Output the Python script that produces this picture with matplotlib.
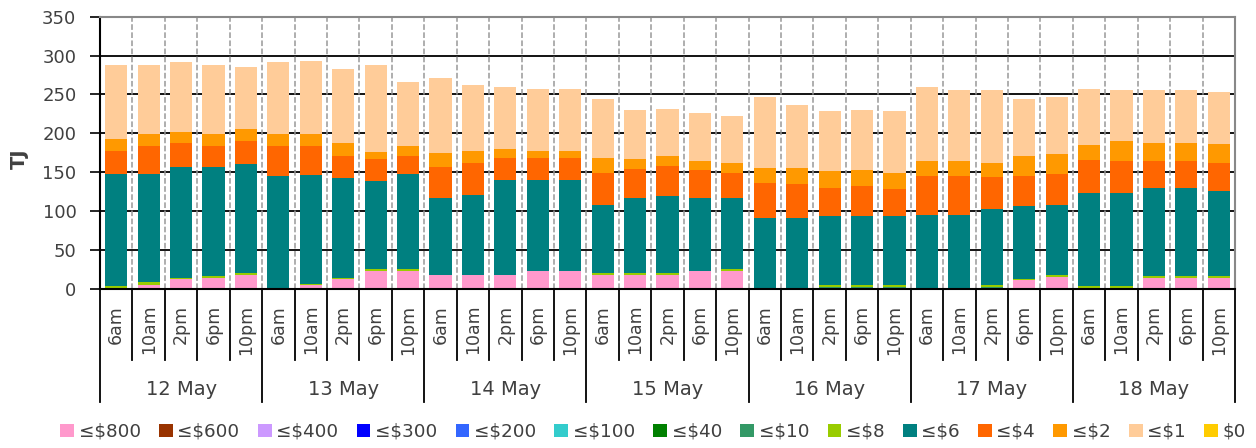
import matplotlib
matplotlib.use("Agg")
import matplotlib.pyplot as plt
import numpy as np

# x axis: 7 days x 5 times
days = ["12 May", "13 May", "14 May", "15 May", "16 May", "17 May", "18 May"]
times = ["6am", "10am", "2pm", "6pm", "10pm"]

# stacked series (TJ), bottom to top
le800 = [0, 5, 12, 14, 18, 0, 4, 12, 23, 23, 17, 17, 17, 22, 22,
         17.5, 17.5, 17.5, 22, 23, 0, 0, 0, 0, 0, 0, 0, 0, 11, 15,
         0, 0, 14, 14, 14]
le600 = [0] * 35
le400 = [0] * 35
le300 = [0] * 35
le200 = [0] * 35
le100 = [0] * 35
le40 = [0] * 35
le10 = [1, 0, 0, 0, 0, 1, 0, 0, 0, 0, 1, 1, 1, 0, 0,
        0, 0, 0, 0, 0, 0, 0, 2, 2, 2, 0, 0, 2, 0, 0,
        1, 1, 0, 0, 0]
le8 = [2, 4, 2, 2, 2, 0, 1.5, 2, 2, 2, 0, 0, 0, 0, 0,
       2, 2, 2, 0, 2, 0, 0, 3, 3, 3, 0, 0, 3, 1, 3,
       2, 2, 2, 2, 2]
le6 = [144, 138, 142, 140, 140, 144, 141, 128.5, 114, 122,
       99, 103, 122, 118, 118, 88, 97, 99, 95, 92,
       91, 91, 88, 88, 88, 95, 95, 97, 94, 90,
       120, 120, 114, 114, 109]
le4 = [30, 37, 32, 28, 30, 39, 37, 28.5, 28, 24,
       39, 41, 28, 28, 28, 41, 37, 39, 35, 32,
       45, 43, 37, 39, 34.5, 50, 50, 41, 39, 39,
       43, 41, 34, 34, 37]
le2 = [15, 15, 13, 15, 15, 15, 15, 17, 8.5, 13,
       19, 15, 11, 9, 9, 19, 13, 12.5, 12.5, 12.5,
       19, 21, 21, 21, 21.5, 19, 19, 19, 25, 26,
       19, 26, 24, 24, 24]
le1 = [96, 89, 91, 89, 80, 93, 95, 95, 112.5, 82,
       96, 85, 80, 80, 80, 76, 63, 61, 61, 61,
       91, 81, 78, 77, 80, 95, 91, 93, 74, 73,
       72, 65, 67, 67, 67]
zero = [0] * 35

series = [
    ("≤$800", le800, "#FF99CC"),
    ("≤$600", le600, "#993300"),
    ("≤$400", le400, "#CC99FF"),
    ("≤$300", le300, "#0000FF"),
    ("≤$200", le200, "#3366FF"),
    ("≤$100", le100, "#33CCCC"),
    ("≤$40", le40, "#008000"),
    ("≤$10", le10, "#339966"),
    ("≤$8", le8, "#99CC00"),
    ("≤$6", le6, "#008080"),
    ("≤$4", le4, "#FF6600"),
    ("≤$2", le2, "#FF9900"),
    ("≤$1", le1, "#FFCC99"),
    ("$0", zero, "#FFCC00"),
]

txt = "#404040"
plt.rcParams["font.family"] = ["DejaVu Sans"]

fig = plt.figure(figsize=(12.56, 4.48), dpi=100)
ax = fig.add_axes([100 / 1256, 1 - 288.5 / 448, 1135 / 1256, 271.8 / 448])

n = len(days) * len(times)
x = np.arange(n)
bottom = np.zeros(n)
for name, vals, col in series:
    vals = np.array(vals, dtype=float)
    ax.bar(x, vals, 0.68, bottom=bottom, color=col, label=name, zorder=2)
    bottom += vals

ax.set_xlim(-0.5, n - 0.5)
ax.set_ylim(0, 350)
ax.set_yticks(np.arange(0, 351, 50))
ax.tick_params(axis="y", length=7, width=1.2, pad=10, labelsize=13, labelcolor=txt)
ax.set_xticks([])
ax.set_axisbelow(True)
ax.yaxis.grid(True, color="black", linewidth=1.3)
for b in np.arange(0.5, n - 1, 1):
    ax.axvline(b, color="#999999", linestyle="--", linewidth=1.1, zorder=1)

for s in ["left", "bottom"]:
    ax.spines[s].set_color("black")
    ax.spines[s].set_linewidth(1.5)
for s in ["top", "right"]:
    ax.spines[s].set_color("#888888")
    ax.spines[s].set_linewidth(1.5)

# multi-level category axis
tr = ax.get_xaxis_transform()
for b in np.arange(-0.5, n, 1):
    is_day = int(round(b + 0.5)) % len(times) == 0
    y_end = -0.417 if is_day else -0.263
    ax.plot([b, b], [0, y_end], color="black", linewidth=1.3,
            transform=tr, clip_on=False)
for i in range(n):
    ax.text(i, -0.06, times[i % len(times)], rotation=90, ha="center", va="top",
            fontsize=12.5, color=txt, transform=tr)
for d, day in enumerate(days):
    ax.text(d * len(times) + 2, -0.37, day, ha="center", va="center",
            fontsize=14, color=txt, transform=tr)

fig.text(19 / 1256, 1 - 159 / 448, "TJ", rotation=90, ha="center", va="center",
         fontsize=14, fontweight="bold", color=txt)

fig.legend(loc="center", bbox_to_anchor=(0.52, 0.036), ncol=14, frameon=False,
           fontsize=13.2, handlelength=0.75, handleheight=0.75,
           handletextpad=0.25, columnspacing=1.0, labelcolor=txt)

fig.savefig("out.png", dpi=100)
